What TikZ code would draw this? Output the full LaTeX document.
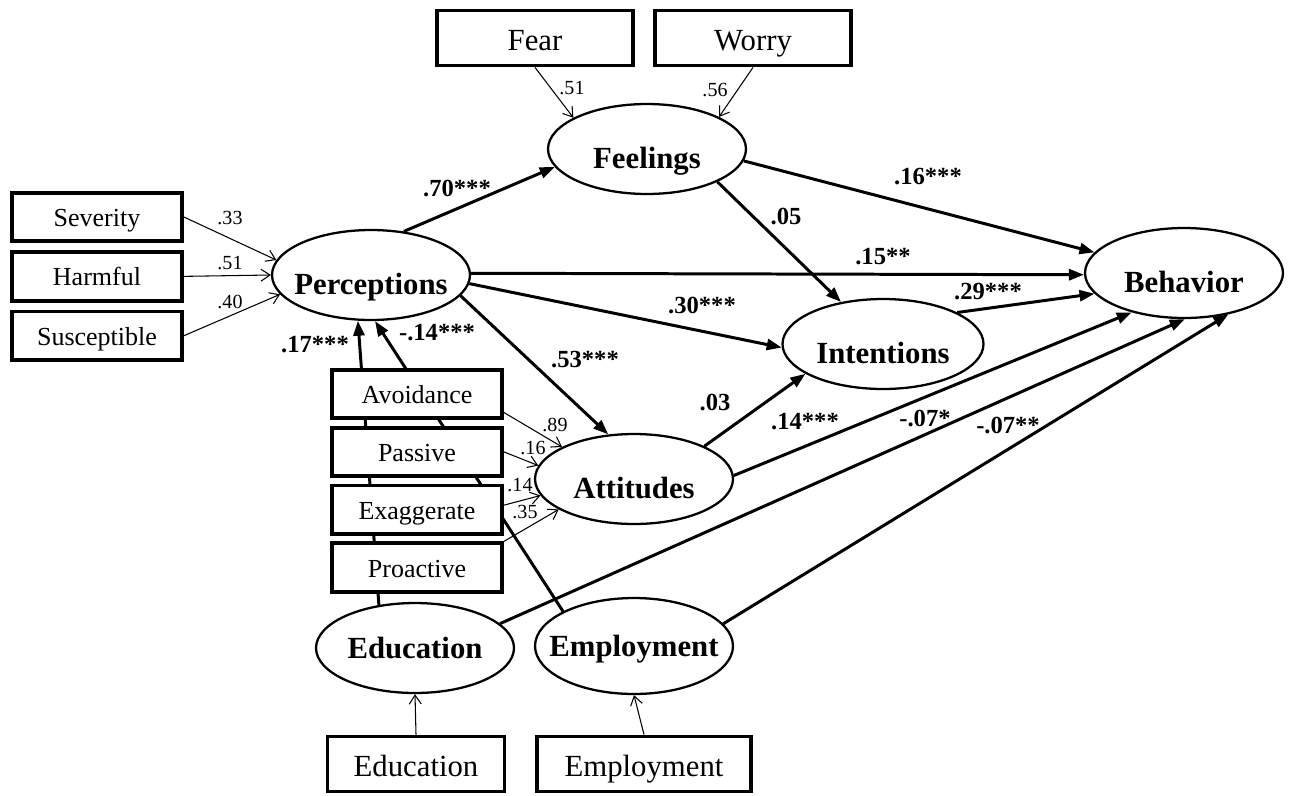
\documentclass[tikz,border=0pt]{standalone}
\usepackage{fontspec}
\setmainfont{Liberation Serif}
\usetikzlibrary{positioning,arrows.meta,shapes.geometric}

\newcommand{\nowidth}[1]{\makebox[0pt]{#1}}

\begin{document}
\begin{tikzpicture}[
  x=0.02cm, y=-0.02cm,
  latent/.style={
    ellipse, draw, line width=1.3pt, fill=white, inner sep=0pt,
    minimum width=3.96cm, minimum height=1.8cm,
    text height=0.76cm, text depth=0pt,
    font=\fontsize{17.5}{20}\selectfont\bfseries
  },
  item/.style={
    draw, line width=2.2pt, fill=white,
    minimum width=3.4cm, minimum height=0.97cm,
    text height=0.38cm, text depth=0pt,
    font=\fontsize{14.8}{17}\selectfont
  },
  bigitem/.style={
    draw, line width=2.2pt, fill=white,
    minimum width=#1, minimum height=1.1cm,
    text height=0.5cm, text depth=0pt,
    font=\fontsize{17.5}{20}\selectfont
  },
  bigitem/.default=3.92cm,
  path/.style={line width=1.7pt, -{Triangle[length=0.3cm,width=0.22cm]}},
  load/.style={line width=0.6pt, -{Straight Barb[length=0.18cm,width=0.24cm]}},
  coef/.style={font=\fontsize{14}{16}\selectfont\bfseries, inner sep=1pt},
  wt/.style={font=\fontsize{11.4}{13}\selectfont, inner sep=1pt}
]
\useasboundingbox (0,0) rectangle (1290,795);

% latent variables
\node[latent] (perc) at (371,275) {\nowidth{Perceptions}};
\node[latent] (feel) at (647,149) {\nowidth{Feelings}};
\node[latent, minimum width=4.02cm] (intn) at (883,344) {\nowidth{Intentions}};
\node[latent] (att) at (634,479) {\nowidth{Attitudes}};
\node[latent] (beh) at (1184,273) {\nowidth{Behavior}};
\node[latent, text height=0.42cm] (edu) at (415,648) {\nowidth{Education}};
\node[latent, text height=0.42cm, minimum height=1.92cm] (emp) at (634,646) {\nowidth{Employment}};

% these two run behind the coping boxes
\draw[path] (edu.130) -- (perc.254);
\draw[path] (emp.154) -- (perc.275);

% indicators
\node[bigitem] (fear) at (535,38) {Fear};
\node[bigitem] (worry) at (753,38) {Worry};
\node[item] (sev) at (97,217) {Severity};
\node[item, below=0.14cm of sev] (harm) {Harmful};
\node[item, below=0.14cm of harm] (susc) {Susceptible};
\node[item] (avo) at (417,394) {Avoidance};
\node[item, below=0.11cm of avo] (pas) {Passive};
\node[item, below=0.11cm of pas] (exa) {Exaggerate};
\node[item, below=0.11cm of exa] (pro) {Proactive};
\node[bigitem=3.54cm] (edubox) at (416,764) {Education};
\node[bigitem=4.28cm] (empbox) at (644,764) {Employment};

% structural paths
\draw[path] (perc.53) -- (feel.191);
\draw[path] (feel.353) -- (beh.167);
\draw[path] (perc.1) -- (beh.181);
\draw[path] (feel.335) -- (intn.135);
\draw[path] (perc.-5) -- (intn.182);
\draw[path] (intn.23) -- (beh.193);
\draw[path] (perc.-13) -- (att.120);
\draw[path] (att.25) -- (intn.201);
\draw[path] (att.2) -- (beh.217);
\draw[path] (edu.16) -- (beh.271);
\draw[path] (emp.14) -- (beh.317);

% loadings
\foreach \a/\b in {fear.south/feel.157, worry.south/feel.24,
    sev.east/perc.171, harm.east/perc.180, susc.east/perc.192,
    avo.-12/att.156, pas.east/att.172, exa.3/att.190, pro.north east/att.202,
    edubox.north/edu.south, empbox.north/emp.south}{
  \draw[load] (\a) -- (\b);
}

\node[wt] (w-fear) at (572,88) {.51};
\node[wt] (w-worry) at (715,90) {.56};
\node[wt] (w-sev) at (230,218) {.33};
\node[wt] (w-harm) at (230,263) {.51};
\node[wt] (w-susc) at (230,302) {.40};
\node[wt] (w-avo) at (555,425) {.89};
\node[wt] (w-pas) at (533,448) {.16};
\node[wt] (w-exa) at (520,485) {.14};
\node[wt] (w-pro) at (525,512) {.35};

\node[coef] (c-pf) at (457,188) {.70***};
\node[coef] (c-fb) at (928,177) {.16***};
\node[coef] (c-pb) at (883,257) {.15**};
\node[coef] (c-fi) at (786,216) {.05};
\node[coef] (c-pi) at (702,305) {.30***};
\node[coef] (c-ib) at (988,292) {.29***};
\node[coef] (c-pa) at (585,360) {.53***};
\node[coef] (c-ai) at (715,402) {.03};
\node[coef] (c-ab) at (805,422) {.14***};
\node[coef] (c-eb) at (925,418) {-.07*};
\node[coef] (c-mb) at (1008,425) {-.07**};
\node[coef] (c-ep) at (315,345) {.17***};
\node[coef] (c-mp) at (437,333) {-.14***};
\end{tikzpicture}
\end{document}
